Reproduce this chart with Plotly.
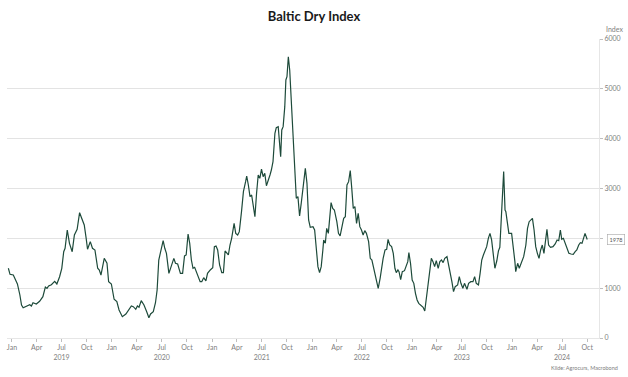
import plotly.graph_objects as go

dates = [
    "2018-12-19", "2018-12-25", "2019-01-06", "2019-01-15", "2019-01-21", "2019-01-30", "2019-02-05", "2019-02-11",
    "2019-02-23", "2019-03-07", "2019-03-13", "2019-03-19", "2019-03-31", "2019-04-12", "2019-04-24", "2019-05-03",
    "2019-05-09", "2019-05-15", "2019-05-25", "2019-06-06", "2019-06-14", "2019-06-24", "2019-07-02", "2019-07-09",
    "2019-07-14", "2019-07-22", "2019-07-30", "2019-08-09", "2019-08-17", "2019-08-27", "2019-09-05", "2019-09-14",
    "2019-09-22", "2019-09-29", "2019-10-04", "2019-10-14", "2019-10-22", "2019-10-31", "2019-11-10", "2019-11-16",
    "2019-11-22", "2019-12-04", "2019-12-10", "2019-12-14", "2019-12-20", "2019-12-30",
    "2020-01-09", "2020-01-19", "2020-01-27", "2020-02-08", "2020-02-21", "2020-03-04", "2020-03-12", "2020-03-19",
    "2020-03-28", "2020-04-03", "2020-04-09", "2020-04-17", "2020-04-27", "2020-05-07", "2020-05-15", "2020-05-21",
    "2020-05-31", "2020-06-08", "2020-06-14", "2020-06-20", "2020-06-26", "2020-07-02", "2020-07-06", "2020-07-12",
    "2020-07-18", "2020-07-27", "2020-08-02", "2020-08-08", "2020-08-14", "2020-08-20", "2020-08-28", "2020-09-07",
    "2020-09-15", "2020-09-22", "2020-09-28", "2020-10-05", "2020-10-11", "2020-10-17", "2020-10-23", "2020-10-29",
    "2020-11-04", "2020-11-12", "2020-11-18", "2020-11-24", "2020-12-01", "2020-12-09", "2020-12-15", "2020-12-25",
    "2021-01-03", "2021-01-09", "2021-01-15", "2021-01-21", "2021-01-28", "2021-02-05", "2021-02-11", "2021-02-17",
    "2021-02-23", "2021-03-01", "2021-03-07", "2021-03-13", "2021-03-22", "2021-03-28", "2021-04-04", "2021-04-10",
    "2021-04-18", "2021-04-25", "2021-05-03", "2021-05-07", "2021-05-13", "2021-05-19", "2021-05-25", "2021-05-31",
    "2021-06-06", "2021-06-12", "2021-06-18", "2021-06-24", "2021-06-30", "2021-07-06", "2021-07-12", "2021-07-18",
    "2021-07-24", "2021-07-31", "2021-08-05", "2021-08-11", "2021-08-18", "2021-08-23", "2021-08-30", "2021-09-05",
    "2021-09-08", "2021-09-12", "2021-09-17", "2021-09-23", "2021-09-27", "2021-10-01", "2021-10-06", "2021-10-11",
    "2021-10-17", "2021-10-23", "2021-10-29", "2021-11-04", "2021-11-10", "2021-11-16", "2021-11-22", "2021-11-28",
    "2021-12-07", "2021-12-13", "2021-12-19", "2021-12-25",
    "2022-01-04", "2022-01-10", "2022-01-16", "2022-01-22", "2022-01-28", "2022-02-03", "2022-02-09", "2022-02-12",
    "2022-02-18", "2022-02-23", "2022-03-01", "2022-03-07", "2022-03-11", "2022-03-17", "2022-03-23", "2022-04-01",
    "2022-04-07", "2022-04-13", "2022-04-20", "2022-04-26", "2022-05-02", "2022-05-08", "2022-05-14", "2022-05-20",
    "2022-05-25", "2022-05-31", "2022-06-06", "2022-06-12", "2022-06-18", "2022-06-24", "2022-06-30", "2022-07-06",
    "2022-07-12", "2022-07-18", "2022-07-26", "2022-08-01", "2022-08-07", "2022-08-15", "2022-08-21", "2022-08-30",
    "2022-09-06", "2022-09-11", "2022-09-17", "2022-09-24", "2022-09-30", "2022-10-05", "2022-10-11", "2022-10-18",
    "2022-10-24", "2022-10-30", "2022-11-04", "2022-11-10", "2022-11-14", "2022-11-20", "2022-11-26", "2022-12-04",
    "2022-12-10", "2022-12-16", "2022-12-20", "2022-12-26",
    "2023-01-01", "2023-01-07", "2023-01-13", "2023-01-19", "2023-01-25", "2023-02-03", "2023-02-10", "2023-02-16",
    "2023-02-22", "2023-02-27", "2023-03-06", "2023-03-12", "2023-03-18", "2023-03-24", "2023-03-30", "2023-04-06",
    "2023-04-12", "2023-04-18", "2023-04-24", "2023-04-30", "2023-05-08", "2023-05-14", "2023-05-20", "2023-05-26",
    "2023-06-01", "2023-06-07", "2023-06-16", "2023-06-22", "2023-06-28", "2023-07-05", "2023-07-11", "2023-07-20",
    "2023-07-26", "2023-08-03", "2023-08-11", "2023-08-17", "2023-08-23", "2023-08-31", "2023-09-06", "2023-09-12",
    "2023-09-18", "2023-09-24", "2023-09-30", "2023-10-06", "2023-10-12", "2023-10-18", "2023-10-25", "2023-10-30",
    "2023-11-06", "2023-11-12", "2023-11-17", "2023-11-23", "2023-11-27", "2023-12-01", "2023-12-06", "2023-12-09",
    "2023-12-14", "2023-12-20", "2023-12-30",
    "2024-01-05", "2024-01-11", "2024-01-14", "2024-01-21", "2024-01-27", "2024-02-04", "2024-02-12", "2024-02-20",
    "2024-02-26", "2024-03-03", "2024-03-09", "2024-03-15", "2024-03-21", "2024-03-27", "2024-04-02", "2024-04-08",
    "2024-04-14", "2024-04-20", "2024-04-26", "2024-05-02", "2024-05-07", "2024-05-13", "2024-05-20", "2024-05-29",
    "2024-06-06", "2024-06-13", "2024-06-19", "2024-06-25", "2024-06-30", "2024-07-06", "2024-07-12", "2024-07-18",
    "2024-07-26", "2024-08-03", "2024-08-11", "2024-08-18", "2024-08-24", "2024-08-31", "2024-09-06", "2024-09-12",
    "2024-09-18", "2024-09-23", "2024-10-01",
]

bdi = [
    1400, 1278, 1264, 1164, 1084, 863, 662, 608,
    642, 668, 642, 708, 682, 736, 829, 1023,
    995, 1043, 1070, 1137, 1084, 1230, 1399, 1732,
    1800, 2167, 1900, 1732, 2067, 2181, 2515, 2401,
    2268, 2000, 1780, 1933, 1800, 1766, 1399, 1365,
    1264, 1599, 1532, 1499, 1130, 1084,
    777, 729, 562, 428, 482, 576, 642, 628,
    576, 642, 616, 749, 662, 528, 408, 482,
    528, 708, 963, 1565, 1732, 1833, 1953, 1800,
    1699, 1298, 1399, 1532, 1599, 1499, 1485, 1298,
    1298, 1646, 1666, 2087, 1900, 1565, 1399, 1419,
    1331, 1198, 1130, 1130, 1210, 1144, 1298, 1365,
    1411, 1833, 1846, 1766, 1465, 1311, 1311, 1746,
    1699, 1666, 1866, 2000, 2301, 2100, 2067, 2134,
    2535, 2936, 3137, 3251, 3070, 2836, 2870, 2602,
    2434, 2904, 3271, 3205, 3391, 3237, 3305, 3056,
    3137, 3271, 3371, 3538, 4108, 4221, 4241, 3873,
    3638, 4174, 4241, 4642, 5178, 5244, 5645, 5378,
    4710, 4074, 3339, 2803, 2836, 2448, 2703, 3037,
    3405, 3104, 2368, 2221,
    2234, 2167, 1766, 1432, 1311, 1432, 1766, 1967,
    1900, 2201, 2100, 2468, 2716, 2602, 2569, 2334,
    2100, 2047, 2234, 2401, 2434, 3070, 3137, 3358,
    3037, 2602, 2636, 2301, 2502, 2234, 2167, 2067,
    2154, 2100, 1933, 1599, 1565, 1365, 1264, 998,
    1198, 1399, 1599, 1766, 1780, 1980, 1866, 1833,
    1699, 1399, 1311, 1365, 1331, 1170, 1330, 1351,
    1465, 1532, 1713, 1499,
    1164, 1097, 897, 763, 696, 642, 616, 542,
    829, 1097, 1365, 1599, 1532, 1432, 1552, 1399,
    1532, 1565, 1512, 1599, 1632, 1465, 1365, 1130,
    930, 1030, 1064, 1231, 1097, 998, 1097, 977,
    1097, 1130, 1130, 1231, 1097, 1064, 1298, 1565,
    1666, 1766, 1833, 2000, 2100, 1967, 1632, 1399,
    1550, 1750, 1820, 2400, 2970, 3339, 2569, 2535,
    2334, 2100, 2100,
    1866, 1532, 1331, 1499, 1399, 1532, 1632, 1866,
    2201, 2334, 2368, 2401, 2167, 1833, 1699, 1599,
    1766, 1866, 1699, 1967, 2181, 1866, 1819, 1833,
    1887, 1967, 1953, 2167, 1980, 2000, 1900, 1833,
    1699, 1686, 1679, 1733, 1766, 1866, 1913, 1900,
    2000, 2100, 1978,
]

tick_dates = [
    "2019-01-01", "2019-04-01", "2019-07-01", "2019-10-01",
    "2020-01-01", "2020-04-01", "2020-07-01", "2020-10-01",
    "2021-01-01", "2021-04-01", "2021-07-01", "2021-10-01",
    "2022-01-01", "2022-04-01", "2022-07-01", "2022-10-01",
    "2023-01-01", "2023-04-01", "2023-07-01", "2023-10-01",
    "2024-01-01", "2024-04-01", "2024-07-01", "2024-10-01",
]
tick_labels = [
    "Jan", "Apr", "Jul<br>2019", "Oct",
    "Jan", "Apr", "Jul<br>2020", "Oct",
    "Jan", "Apr", "Jul<br>2021", "Oct",
    "Jan", "Apr", "Jul<br>2022", "Oct",
    "Jan", "Apr", "Jul<br>2023", "Oct",
    "Jan", "Apr", "Jul<br>2024", "Oct",
]
y_ticks = [0, 1000, 2000, 3000, 4000, 5000, 6000]
# the 2000 label is hidden behind the last-value marker in the original
y_tick_labels = ["0", "1000", "", "3000", "4000", "5000", "6000"]
last_value = bdi[-1]

FONT = "Lato, 'Open Sans', sans-serif"
GRAY = "#808080"

fig = go.Figure()
fig.add_trace(go.Scatter(
    x=dates, y=bdi, mode="lines",
    line=dict(color="#1d4a3a", width=1.2),
    showlegend=False, hoverinfo="x+y",
))

fig.update_layout(
    width=628, height=377,
    margin=dict(l=7, r=25, t=39, b=39),
    paper_bgcolor="white", plot_bgcolor="white",
    font=dict(family=FONT, color=GRAY, size=7),
    title=dict(text="<b>Baltic Dry Index</b>", x=0.5, xanchor="center",
               y=0.957, yanchor="middle",
               font=dict(family=FONT, size=13, color="#1a1a1a")),
    xaxis=dict(
        type="date", range=["2018-12-14", "2024-11-13"],
        tickmode="array", tickvals=tick_dates, ticktext=tick_labels,
        showgrid=False, zeroline=False,
        showline=True, linecolor="#e6e6e6", linewidth=1,
        ticks="outside", ticklen=3, tickcolor="#bfbfbf",
        tickfont=dict(family=FONT, size=7, color=GRAY),
    ),
    yaxis=dict(
        side="right", range=[0, 6000],
        tickmode="array", tickvals=y_ticks, ticktext=y_tick_labels,
        showgrid=True, gridcolor="#e3e3e3", gridwidth=1,
        zeroline=False,
        showline=True, linecolor="#e6e6e6", linewidth=1,
        ticks="outside", ticklen=3, tickcolor="#bfbfbf",
        tickfont=dict(family=FONT, size=7, color=GRAY),
    ),
    annotations=[
        dict(text="Index", xref="paper", yref="paper", x=1.0, y=1.0,
             xanchor="left", yanchor="bottom", xshift=5, yshift=4,
             showarrow=False, font=dict(family=FONT, size=7, color=GRAY)),
        dict(text=f"{last_value}", xref="paper", yref="y", x=1.0, y=last_value,
             xanchor="left", yanchor="middle", xshift=8,
             showarrow=False, bordercolor="#a6a6a6", borderwidth=0.6, borderpad=2,
             bgcolor="white", font=dict(family=FONT, size=5.5, color="#555555")),
        dict(text="Kilde: Agrocurs, Macrobond", xref="paper", yref="paper",
             x=1.0, y=0.0, xanchor="right", yanchor="top", xshift=21, yshift=-25,
             showarrow=False, font=dict(family=FONT, size=5.5, color=GRAY)),
    ],
)

fig.write_html("out.html", config={"displayModeBar": False},
               post_script="document.body.style.margin='0';")
